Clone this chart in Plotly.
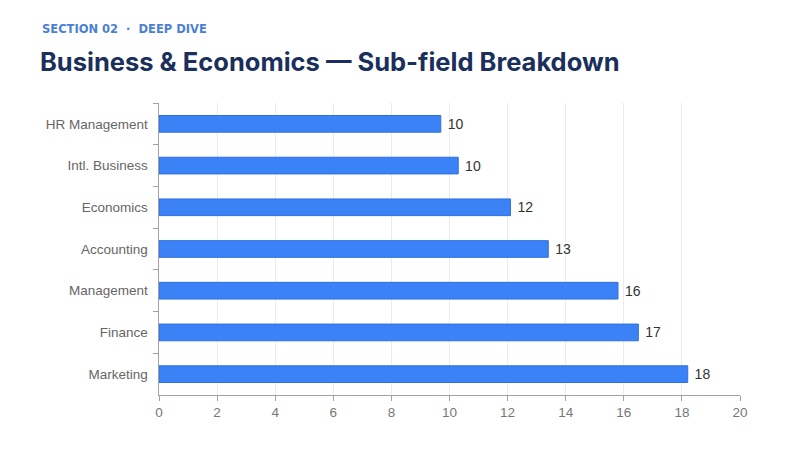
import plotly.graph_objects as go

# Sub-field counts, listed top to bottom as in the chart
subfields = ["HR Management", "Intl. Business", "Economics", "Accounting",
             "Management", "Finance", "Marketing"]
counts = [9.7, 10.3, 12.1, 13.4, 15.8, 16.5, 18.2]
x_ticks = [0, 2, 4, 6, 8, 10, 12, 14, 16, 18, 20]

fig = go.Figure()

fig.add_trace(go.Bar(
    y=subfields,
    x=counts,
    orientation="h",
    width=0.4,
    marker=dict(color="#3b82f6", line=dict(color="#2f6fe0", width=1)),
    text=counts,
    texttemplate=" %{x:.0f}",
    textposition="outside",
    textfont=dict(family="Liberation Sans, Arial, sans-serif", size=14, color="#333333"),
    cliponaxis=False,
    hoverinfo="skip",
))

# small header line above the title
fig.add_annotation(
    text="<b>SECTION 02  ·  DEEP DIVE</b>",
    xref="paper", yref="paper",
    x=-(159 - 40) / 581, y=1 + (103 - 29) / 292,
    xanchor="left", yanchor="middle",
    font=dict(family="DejaVu Sans, sans-serif", size=11.5, color="#4a80d4"),
    showarrow=False,
)

fig.update_layout(
    width=800, height=450,
    margin=dict(l=159, r=60, t=103, b=55),
    paper_bgcolor="#ffffff",
    plot_bgcolor="#ffffff",
    showlegend=False,
    title=dict(
        text="<b>Business & Economics — Sub-field Breakdown</b>",
        x=40 / 800, xanchor="left", xref="container",
        y=1 - 62 / 450, yanchor="middle", yref="container",
        font=dict(family="Inter, Lato, sans-serif", size=25.5, color="#1b2f5c", weight=800),
    ),
)

fig.update_xaxes(
    range=[0, 20],
    tickvals=x_ticks,
    showgrid=True, gridcolor="#ebebee", gridwidth=1,
    showline=True, linecolor="#a0a0a8", linewidth=1,
    ticks="outside", ticklen=5, tickcolor="#a0a0a8",
    tickfont=dict(family="Liberation Sans, Arial, sans-serif", size=13.5, color="#777777"),
    zeroline=False,
)
fig.update_yaxes(
    type="category",
    categoryorder="array", categoryarray=subfields,
    autorange="reversed",
    showgrid=False,
    showline=True, linecolor="#a0a0a8", linewidth=1,
    ticks="outside", ticklen=5, tickcolor="#a0a0a8",
    tickson="boundaries",
    ticksuffix="  ",
    tickfont=dict(family="Liberation Sans, Arial, sans-serif", size=13.5, color="#666666"),
)

# remove the default page margin so the figure sits at the window's corner
fig.write_html("out.html", config={"displayModeBar": False},
               post_script="document.body.style.margin='0';")
